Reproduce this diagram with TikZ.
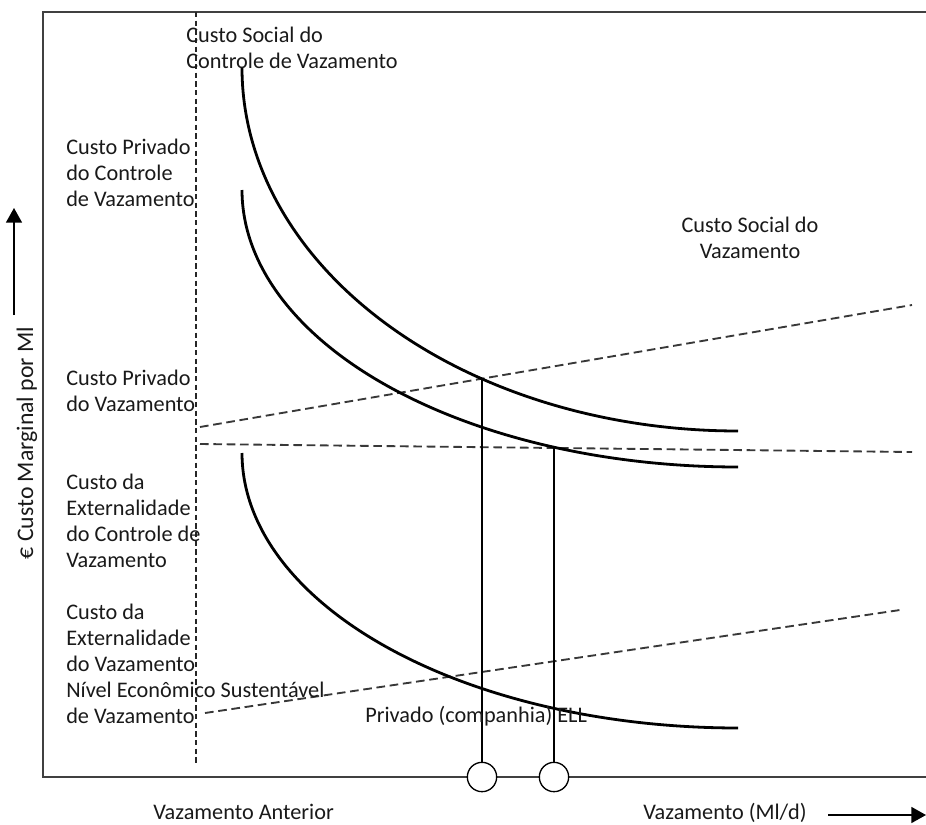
\documentclass[tikz,border=0pt]{standalone}
\usepackage{fontspec}
\setmainfont{Carlito}
\usetikzlibrary{arrows.meta}
\begin{document}
\begin{tikzpicture}[x=0.75pt,y=-0.75pt,
  lbl/.style={anchor=base west,inner sep=0pt,text=black!90,font=\fontsize{16.7}{20}\selectfont},
  clbl/.style={lbl,anchor=base},
  frameline/.style={line width=1.6pt,draw=black!75},
  guide/.style={line width=1.1pt,draw=black!85,dash pattern=on 4pt off 2.5pt},
  costline/.style={line width=1.4pt,draw=black!78,dash pattern=on 6.5pt off 3.5pt},
  curve/.style={line width=2.1pt,draw=black},
  drop/.style={line width=1pt,draw=black},
  mark circle/.style={circle,draw=black,line width=1pt,fill=white,minimum size=22pt,inner sep=0pt},
  axisarrow/.style={line width=1.2pt,-{Triangle[length=11pt,width=12pt]}}]
\useasboundingbox (0,0) rectangle (926,825);
% frame
\draw[frameline] (926,12) -- (43,12) -- (43,777) -- (926,777);
% vertical guide
\draw[guide] (196,12) -- (196,763);
% dashed cost lines
\draw[costline] (200,427) -- (912,305);
\draw[costline] (200,444) -- (912,452);
\draw[costline] (205,713) -- (900,610);
% curves (quarter ellipses)
\draw[curve] plot[domain=180:270,samples=90,smooth] ({738+496*cos(\x)},{68-363*sin(\x)});
\draw[curve] plot[domain=180:270,samples=90,smooth] ({738+496*cos(\x)},{190-277*sin(\x)});
\draw[curve] plot[domain=180:270,samples=90,smooth] ({738+496*cos(\x)},{453-275*sin(\x)});
% intersections and drops
\coordinate (p1) at (482,379);
\coordinate (p2) at (554,447);
\node[mark circle] (c1) at (482,777) {};
\node[mark circle] (c2) at (554,777) {};
\draw[drop] (p1) -- (c1.north);
\draw[drop] (p2) -- (c2.north);
% axis arrows
\coordinate (ya) at (14,315);
\coordinate (yb) at (14,208);
\draw[axisarrow] (ya) -- (yb);
\coordinate (xa) at (828,815);
\coordinate (xb) at (926,815);
\draw[axisarrow] (xa) -- (xb);
% labels
\node[lbl,rotate=90,anchor=base,font=\fontsize{17.8}{20}\selectfont] (ylab) at (33,443) {€ Custo Marginal por Ml};
\node[lbl] (s1) at (186,42) {Custo Social do};
\node[lbl] (s2) at (186,68) {Controle de Vazamento};
\node[lbl] (a1) at (66,154) {Custo Privado};
\node[lbl] (a2) at (66,180) {do Controle};
\node[lbl] (a3) at (66,206) {de Vazamento};
\node[clbl] (r1) at (750,232) {Custo Social do};
\node[clbl] (r2) at (750,258) {Vazamento};
\node[lbl] (b1) at (66,385) {Custo Privado};
\node[lbl] (b2) at (66,411) {do Vazamento};
\node[lbl] (d1) at (66,489) {Custo da};
\node[lbl] (d2) at (66,515) {Externalidade};
\node[lbl] (d3) at (66,541) {do Controle de};
\node[lbl] (d4) at (66,567) {Vazamento};
\node[lbl] (e1) at (66,619) {Custo da};
\node[lbl] (e2) at (66,645) {Externalidade};
\node[lbl] (e3) at (66,671) {do Vazamento};
\node[lbl] (e4) at (66,697) {Nível Econômico Sustentável};
\node[lbl] (e5) at (66,723) {de Vazamento};
\node[lbl] (ell) at (365,722) {Privado (companhia) ELL};
\node[lbl] (xl1) at (153,819) {Vazamento Anterior};
\node[lbl] (xl2) at (643,819) {Vazamento (Ml/d)};
\end{tikzpicture}
\end{document}
